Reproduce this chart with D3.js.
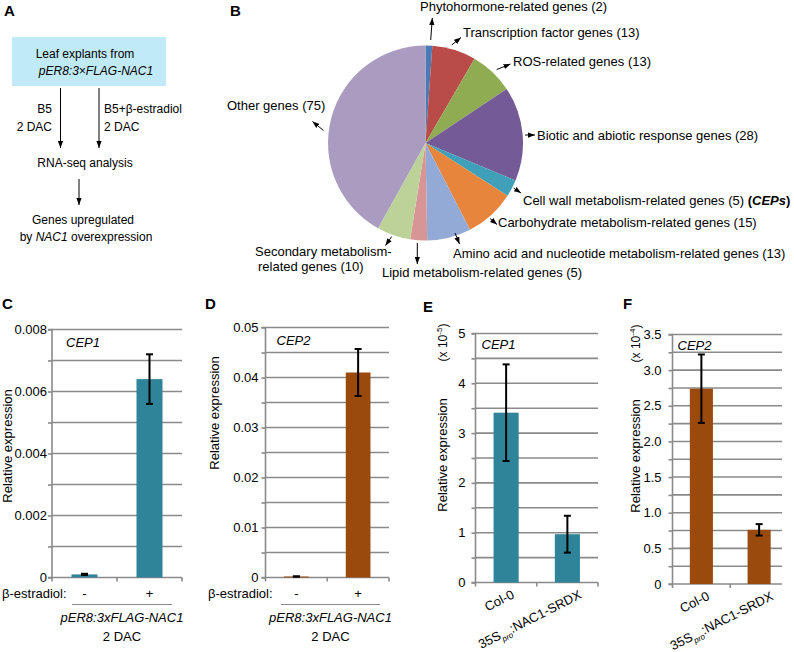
<!DOCTYPE html>
<html><head><meta charset="utf-8">
<script src="https://cdn.jsdelivr.net/npm/d3@7"></script>
<style>
body{margin:0;background:#fff;}
svg{font-family:"Liberation Sans",Arial,sans-serif;}
</style></head>
<body><svg id="fig" width="794" height="652"></svg>
<script>
// ---------- DATA ----------
const pieCategories = ["Phytohormone-related genes (2)","Transcription factor genes (13)","ROS-related genes (13)","Biotic and abiotic response genes (28)","Cell wall metabolism-related genes (5)","Carbohydrate metabolism-related genes (15)","Amino acid and nucleotide metabolism-related genes (13)","Lipid metabolism-related genes (5)","Secondary metabolism-related genes (10)","Other genes (75)"];
const pieCounts = [2,13,13,28,5,15,13,5,10,75];
const pieColors = ["#4a7bb7","#b94b48","#8fac52","#745a97","#40a0ba","#e8853d","#93aad7","#d79595","#bdd298","#a99cc0"];

const cdCategories = ["-","+"];
const cValues = [0.0001,0.0064];
const cErrors = [0.00002,0.0008];
const cTicks = [0,0.002,0.004,0.006,0.008];

const dValues = [0.0002,0.041];
const dErrors = [0.00003,0.0047];
const dTicks = [0,0.01,0.02,0.03,0.04,0.05];

const efCategories = ["Col-0","35S:NAC1-SRDX"];
const eValues = [3.41,0.97];
const eErrors = [0.97,0.37];
const eTicks = [0,1,2,3,4,5];

const fValues = [2.74,0.76];
const fErrors = [0.48,0.08];
const fTicks = [0,0.5,1.0,1.5,2.0,2.5,3.0,3.5];

const teal = "#2f8499", brown = "#9a4a0c";

// ---------- SETUP ----------
const svg = d3.select("#fig");
const defs = svg.append("defs");
defs.append("marker").attr("id","ah").attr("viewBox","0 0 8 6").attr("refX",8).attr("refY",3)
  .attr("markerUnits","userSpaceOnUse").attr("markerWidth",7).attr("markerHeight",5.5).attr("orient","auto")
  .append("path").attr("d","M0,0L8,3L0,6Z").attr("fill","#000");

function arrow(x1,y1,x2,y2){
  svg.append("line").attr("x1",x1).attr("y1",y1).attr("x2",x2).attr("y2",y2)
    .attr("stroke","#000").attr("stroke-width",1).attr("marker-end","url(#ah)");
}
function txt(x,y,s,opts={}){
  const t = svg.append("text").attr("x",x).attr("y",y).text(s)
    .attr("font-size",opts.size||13).attr("text-anchor",opts.anchor||"start").attr("fill","#000");
  if(opts.italic) t.attr("font-style","italic");
  if(opts.bold) t.attr("font-weight","bold");
  return t;
}
// panel letters
[["A",4,16],["B",230,16],["C",2,309],["D",205,309],["E",423,312],["F",623,309]].forEach(d=>txt(d[1],d[2],d[0],{size:15,bold:true}));

// ---------- PANEL A ----------
svg.append("rect").attr("x",12).attr("y",37).attr("width",154).attr("height",49).attr("fill","#c0eaf7");
txt(85,58,"Leaf explants from",{anchor:"middle",size:12});
txt(96,75,"pER8:3×FLAG-NAC1",{anchor:"middle",italic:true,size:12});
arrow(60.5,88,60.5,148);
arrow(99,88,99,148);
txt(52,113,"B5",{anchor:"end",size:12});
txt(52,131,"2 DAC",{anchor:"end",size:12});
txt(104,113,"B5+β-estradiol",{size:12});
txt(104,131,"2 DAC",{size:12});
txt(85,167,"RNA-seq analysis",{anchor:"middle",size:12});
arrow(79,179,79,205);
txt(83,224,"Genes upregulated",{anchor:"middle",size:12});
const by = txt(86,241,"by ",{anchor:"middle",size:12});
by.append("tspan").attr("font-style","italic").text("NAC1");
by.append("tspan").text(" overexpression");

// ---------- PANEL B (pie) ----------
const cx = 425.5, cy = 143, R = 97.5;
const pie = d3.pie().sort(null).value(d=>d)(pieCounts);
const arc = d3.arc().innerRadius(0).outerRadius(R);
svg.append("g").attr("transform",`translate(${cx},${cy})`).selectAll("path").data(pie).join("path")
  .attr("d",arc).attr("fill",(d,i)=>pieColors[i]);

txt(420,11,pieCategories[0]); arrow(430.7,40,432.3,18);
txt(463,37,pieCategories[1]); arrow(451.7,45,461,37.5);
txt(513,66,pieCategories[2]); arrow(496.7,69.5,510.5,64);
txt(537,140,pieCategories[3]); arrow(525,135,535,135);
const cw = txt(523,205,pieCategories[4]+" ");
cw.append("tspan").attr("font-weight","bold").text("(");
cw.append("tspan").attr("font-weight","bold").attr("font-style","italic").text("CEPs");
cw.append("tspan").attr("font-weight","bold").text(")");
arrow(513.5,188,521,193);
txt(498,227,pieCategories[5]); arrow(490,218.5,497,224.5);
txt(453,258,pieCategories[6]); arrow(455,233,459.5,244);
txt(382,277,pieCategories[7]); arrow(417.3,243,417.3,264);
txt(255,255.5,"Secondary metabolism-");
txt(258,270.5,"related genes (10)");
arrow(391.7,236.5,385.5,245.5);
txt(227,110,pieCategories[9]); arrow(323.5,130.5,312.5,121.5);

// ---------- BAR PANELS ----------
function barPanel(cfg){
  const g = svg.append("g");
  const y = d3.scaleLinear().domain([0,cfg.max]).range([cfg.y0,cfg.yTop]);
  const x = d3.scaleBand().domain(cfg.cats).range([cfg.x0,cfg.x1]).paddingInner(cfg.pi).paddingOuter(cfg.pi/2);
  const gridVals = d3.range(1, Math.round(cfg.max/cfg.step)+1).map(i=>i*cfg.step);
  const gridEnd = cfg.gridEnd || cfg.x1;
  g.selectAll(".grid").data(gridVals).join("line")
    .attr("x1",cfg.x0).attr("x2",gridEnd).attr("y1",d=>y(d)).attr("y2",d=>y(d))
    .attr("stroke","#8a8a8a").attr("stroke-width",1.6);
  const ya = d3.axisLeft(y).tickValues([0].concat(gridVals)).tickSize(4).tickFormat("");
  const yg = g.append("g").attr("transform",`translate(${cfg.x0},0)`).call(ya);
  yg.select(".domain").attr("stroke","#8a8a8a").attr("stroke-width",1.6).attr("d",`M-4,${cfg.y0}H0V${cfg.yTop}H-4`);
  yg.selectAll(".tick line").attr("stroke","#8a8a8a").attr("stroke-width",1.6);
  g.selectAll(".yl").data(cfg.ticks).join("text")
    .attr("x",cfg.x0-cfg.gap).attr("y",d=>y(d)+4.5).attr("text-anchor","end").attr("font-size",13)
    .text(d=>d===0?"0":cfg.fmt(d));
  const bounds = [cfg.x0].concat(cfg.cats.map(c=>x(c)+x.bandwidth()+x.step()*cfg.pi/2));
  g.append("line").attr("x1",cfg.x0).attr("x2",gridEnd).attr("y1",cfg.y0).attr("y2",cfg.y0)
    .attr("stroke","#8a8a8a").attr("stroke-width",1.6);
  g.selectAll(".xt").data(bounds.filter(b=>b<=gridEnd+1)).join("line")
    .attr("x1",d=>d).attr("x2",d=>d).attr("y1",cfg.y0).attr("y2",cfg.y0+4)
    .attr("stroke","#8a8a8a").attr("stroke-width",1.6);
  g.selectAll(".bar").data(cfg.values).join("rect")
    .attr("x",(d,i)=>x(cfg.cats[i])).attr("width",x.bandwidth())
    .attr("y",d=>y(d)).attr("height",d=>cfg.y0-y(d)).attr("fill",cfg.color);
  cfg.values.forEach((v,i)=>{
    const xc = x(cfg.cats[i])+x.bandwidth()/2;
    const lo = y(v-cfg.errors[i]), hi = y(v+cfg.errors[i]);
    g.append("line").attr("x1",xc).attr("x2",xc).attr("y1",lo).attr("y2",hi).attr("stroke","#000").attr("stroke-width",2);
    [lo,hi].forEach(yy=>g.append("line").attr("x1",xc-3.5).attr("x2",xc+3.5).attr("y1",yy).attr("y2",yy).attr("stroke","#000").attr("stroke-width",2));
  });
  txt(cfg.x0+cfg.geneDx,cfg.yTop+cfg.geneDy,cfg.gene,{italic:true});
  g.append("text").attr("transform",`translate(${cfg.titleX},${cfg.titleY}) rotate(-90)`)
    .attr("text-anchor","middle").attr("font-size",13).text("Relative expression");
  return {x,y};
}

function cdExtras(sc, cfg){
  txt(cfg.estX, cfg.y0+20, "β-estradiol:");
  cfg.cats.forEach(c=>txt(sc.x(c)+sc.x.bandwidth()/2, cfg.y0+20, c, {anchor:"middle"}));
  svg.append("line").attr("x1",cfg.lineX1).attr("x2",cfg.lineX2).attr("y1",cfg.y0+27).attr("y2",cfg.y0+27)
    .attr("stroke","#8a8a8a").attr("stroke-width",1);
  const mid = (cfg.lineX1+cfg.lineX2)/2;
  txt(mid, cfg.y0+44, "pER8:3xFLAG-NAC1",{anchor:"middle",italic:true});
  txt(mid, cfg.y0+63, "2 DAC",{anchor:"middle"});
}

function efExtras(sc, cfg, expo){
  const t = svg.append("text").attr("transform",`translate(${cfg.titleX},${cfg.yTop+9}) rotate(-90)`)
    .attr("text-anchor","middle").attr("font-size",12).text("(x 10");
  t.append("tspan").attr("font-size",8).attr("dy",-5).text(expo);
  t.append("tspan").attr("dy",5).text(")");
  cfg.cats.forEach((c,i)=>{
    const xc = sc.x(c)+sc.x.bandwidth()/2 + (i===0?9:15);
    const tt = svg.append("text").attr("transform",`translate(${xc},${cfg.y0+15}) rotate(-27)`)
      .attr("text-anchor","end").attr("font-size",13);
    if(i===0){ tt.text(c); }
    else {
      tt.append("tspan").text("35S");
      tt.append("tspan").attr("font-size",8).attr("font-style","italic").attr("dy",4).text("pro");
      tt.append("tspan").attr("dy",-4).text(":NAC1-SRDX");
    }
  });
}

const cCfg = {x0:52,x1:182,yTop:329.5,y0:577.5,max:0.008,step:0.001,ticks:cTicks,fmt:d3.format(".3f"),gap:5,
  cats:cdCategories,values:cValues,errors:cErrors,color:teal,pi:0.6,gene:"CEP1",geneDx:14,geneDy:17,titleX:12,titleY:446,
  estX:2,lineX1:72,lineX2:172};
const cSc = barPanel(cCfg); cdExtras(cSc,cCfg);

const dCfg = {x0:265.5,x1:389,yTop:327.5,y0:577.5,max:0.05,step:0.005,ticks:dTicks,fmt:d3.format(".2f"),gap:7,
  cats:cdCategories,values:dValues,errors:dErrors,color:brown,pi:0.6,gene:"CEP2",geneDx:11,geneDy:17,titleX:219,titleY:413,
  estX:208,lineX1:281,lineX2:380};
const dSc = barPanel(dCfg); cdExtras(dSc,dCfg);

const eCfg = {x0:475.5,x1:598,yTop:333.5,y0:582.5,max:5,step:0.5,ticks:eTicks,fmt:d3.format("d"),gap:10,
  cats:efCategories,values:eValues,errors:eErrors,color:teal,pi:0.59,gene:"CEP1",geneDx:6,geneDy:15,titleX:447,titleY:455};
const eSc = barPanel(eCfg); efExtras(eSc,eCfg,"-5");

const fCfg = {x0:672.5,x1:788,gridEnd:782,yTop:334.5,y0:584,max:3.5,step:0.25,ticks:fTicks,fmt:d3.format(".1f"),gap:11,
  cats:efCategories,values:fValues,errors:fErrors,color:brown,pi:0.6,gene:"CEP2",geneDx:5,geneDy:15,titleX:640,titleY:456};
const fSc = barPanel(fCfg); efExtras(fSc,fCfg,"-4");
</script></body></html>
